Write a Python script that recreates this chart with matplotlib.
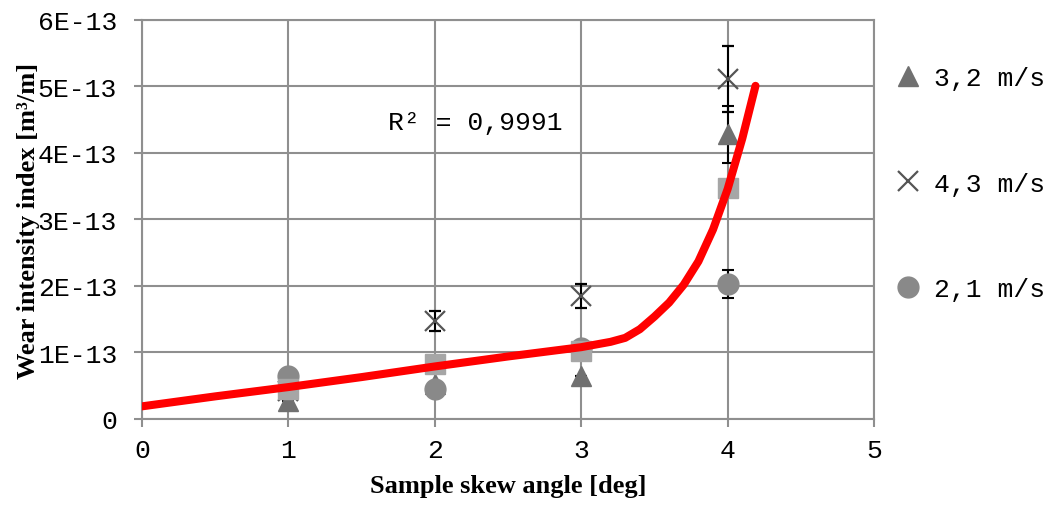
import matplotlib
matplotlib.use('Agg')
import matplotlib.pyplot as plt
from matplotlib.lines import Line2D

# values in units of 1E-13 m^3/m
angle = [1, 2, 3, 4]
v32 = [0.27, 0.52, 0.65, 4.28]      # 3,2 m/s
v32_err = [0.0, 0.0, 0.0, 0.43]
v43 = [0.42, 1.47, 1.85, 5.11]      # 4,3 m/s
v43_err = [0.0, 0.15, 0.18, 0.50]
v21 = [0.65, 0.45, 1.06, 2.03]      # 2,1 m/s
v21_err = [0.0, 0.0, 0.0, 0.21]
v_mean = [0.45, 0.83, 1.02, 3.47]

# trend line
fit_x = [0.0, 0.5, 1.0, 1.5, 2.0, 2.5, 3.0, 3.1, 3.2, 3.3, 3.4, 3.5, 3.6,
         3.7, 3.8, 3.9, 4.0, 4.1, 4.19]
fit_y = [0.19, 0.34, 0.48, 0.63, 0.79, 0.94, 1.08, 1.12, 1.16, 1.22, 1.35,
         1.54, 1.75, 2.02, 2.37, 2.85, 3.46, 4.22, 5.01]

x_ticks = [0, 1, 2, 3, 4, 5]
y_ticks = [0, 1, 2, 3, 4, 5, 6]
y_labels = ['0', '1E-13', '2E-13', '3E-13', '4E-13', '5E-13', '6E-13']

mono = 'Liberation Mono'
serif = 'Liberation Serif'
grid_c = '#8f8f8f'

fig = plt.figure(figsize=(10.53, 5.06), dpi=100)
ax = fig.add_axes([0.1349, 0.170, 0.6952, 0.7885])

ax.errorbar(angle, v32, yerr=v32_err, fmt='^', ms=15, color='#707070',
            ecolor='black', elinewidth=1.5, capsize=4.5, capthick=1.5, zorder=3)
ax.errorbar(angle, v21, yerr=v21_err, fmt='o', ms=15, color='#898989',
            ecolor='black', elinewidth=1.5, capsize=4.5, capthick=1.5, zorder=3.1)
ax.errorbar(angle, v43, yerr=v43_err, fmt='x', ms=14, mew=1.6, color='#555555',
            ecolor='black', elinewidth=1.5, capsize=4.5, capthick=1.5, zorder=3.2)
ax.plot(angle, v_mean, 's', ms=15, color='#a6a6a6', zorder=4)
ax.plot(fit_x, fit_y, '-', color='#ff0000', lw=5.8, solid_capstyle='round',
        solid_joinstyle='round', zorder=5)

ax.text(1.68, 4.47, 'R\u00b2 = 0,9991', family=mono, fontsize=19,
        va='center', ha='left', zorder=6)

ax.set_xlim(0, 5)
ax.set_ylim(0, 6)
ax.set_xticks(x_ticks)
ax.set_yticks(y_ticks)
ax.set_yticklabels(y_labels)
ax.grid(True, color=grid_c, lw=1.5)
ax.set_axisbelow(True)
for s in ax.spines.values():
    s.set_color(grid_c)
    s.set_linewidth(1.5)
ax.tick_params(axis='both', direction='out', length=6, width=1.5,
               color=grid_c, labelsize=19, pad=8)
ax.tick_params(axis='y', pad=12)
for lab in ax.get_xticklabels() + ax.get_yticklabels():
    lab.set_family(mono)

ax.set_xlabel('Sample skew angle [deg]', family=serif, fontweight='bold',
              fontsize=19, labelpad=8)
ax.set_ylabel('Wear intensity index [m\u00b3/m]', family=serif,
              fontweight='bold', fontsize=19, labelpad=-2)

handles = [
    Line2D([], [], ls='none', marker='^', ms=15, color='#707070'),
    Line2D([], [], ls='none', marker='x', ms=14, mew=1.6, color='#555555'),
    Line2D([], [], ls='none', marker='o', ms=15, color='#898989'),
]
fig.legend(handles, ['3,2 m/s', '4,3 m/s', '2,1 m/s'], loc='upper left',
           bbox_to_anchor=(0.827, 0.915), frameon=False, labelspacing=3.1,
           handletextpad=0.5, handlelength=1.0, prop={'family': mono, 'size': 19})

fig.savefig('out.png', dpi=100)
